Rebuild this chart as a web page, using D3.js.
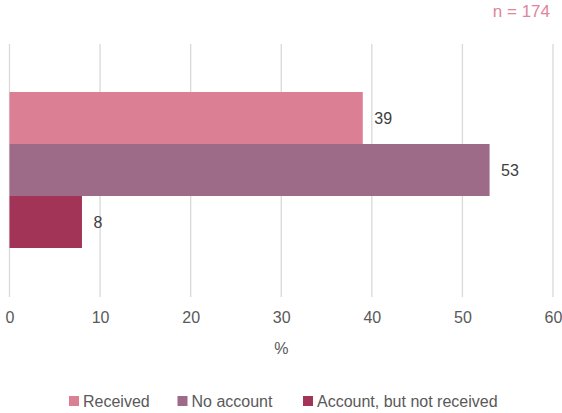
<!DOCTYPE html>
<html>
<head>
<meta charset="utf-8">
<script src="https://cdn.jsdelivr.net/npm/d3@7"></script>
<style>
  body { margin: 0; background: #fff; }
  svg { display: block; font-family: "Liberation Sans", Arial, sans-serif; }
</style>
</head>
<body>
<svg id="chart" width="562" height="413"></svg>
<script>
const seriesNames = ["Received", "No account", "Account, but not received"];
const seriesValues = [39, 53, 8];
const seriesColors = ["#db7f94", "#9d6b88", "#a23458"];
const xTicks = [0, 10, 20, 30, 40, 50, 60];
const sampleNote = "n = 174";

const svg = d3.select("#chart");
const plot = {left: 9.5, right: 553, top: 44, bottom: 297};

const x = d3.scaleLinear()
    .domain([0, 60])
    .range([plot.left, plot.right]);

// one category, three series stacked vertically inside it
const y = d3.scaleBand()
    .domain(seriesNames)
    .range([92, 248]);

// gridlines
svg.append("g")
    .selectAll("line")
    .data(xTicks)
    .join("line")
    .attr("x1", d => x(d))
    .attr("x2", d => x(d))
    .attr("y1", plot.top)
    .attr("y2", plot.bottom)
    .style("stroke", "#d9d9d9")
    .style("stroke-width", 1.3);

// bars
svg.append("g")
    .selectAll("rect")
    .data(seriesValues)
    .join("rect")
    .attr("x", x(0))
    .attr("y", (d, i) => y(seriesNames[i]))
    .attr("width", d => x(d) - x(0))
    .attr("height", y.bandwidth())
    .style("fill", (d, i) => seriesColors[i]);

// value labels
svg.append("g")
    .selectAll("text")
    .data(seriesValues)
    .join("text")
    .attr("x", d => x(d) + 11.5)
    .attr("y", (d, i) => y(seriesNames[i]) + y.bandwidth() / 2)
    .attr("dy", "0.35em")
    .style("font-size", "16px")
    .style("fill", "#404040")
    .text(d => d);

// x axis labels
const xAxis = d3.axisBottom(x).tickValues(xTicks).tickSize(0).tickPadding(0);
const axisG = svg.append("g")
    .attr("transform", "translate(0,323)")
    .call(xAxis);
axisG.select(".domain").remove();
axisG.selectAll("text")
    .attr("dy", null)
    .attr("y", 0)
    .style("font-size", "16px")
    .style("font-family", "Liberation Sans, Arial, sans-serif")
    .style("fill", "#595959");

svg.append("text")
    .attr("x", (x(0) + x(60)) / 2)
    .attr("y", 354)
    .attr("text-anchor", "middle")
    .style("font-size", "16px")
    .style("fill", "#595959")
    .text("%");

// sample size note
svg.append("text")
    .attr("x", 550)
    .attr("y", 17)
    .attr("text-anchor", "end")
    .style("font-size", "17px")
    .style("fill", "#e0859a")
    .text(sampleNote);

// legend
const legendX = [69, 177.5, 303];
const legend = svg.append("g")
    .selectAll("g")
    .data(seriesNames)
    .join("g")
    .attr("transform", (d, i) => `translate(${legendX[i]},396)`);
legend.append("rect")
    .attr("width", 10)
    .attr("height", 10)
    .style("fill", (d, i) => seriesColors[i]);
legend.append("text")
    .attr("x", 14)
    .attr("y", 11)
    .style("font-size", "16px")
    .style("fill", "#595959")
    .text(d => d);
</script>
</body>
</html>
